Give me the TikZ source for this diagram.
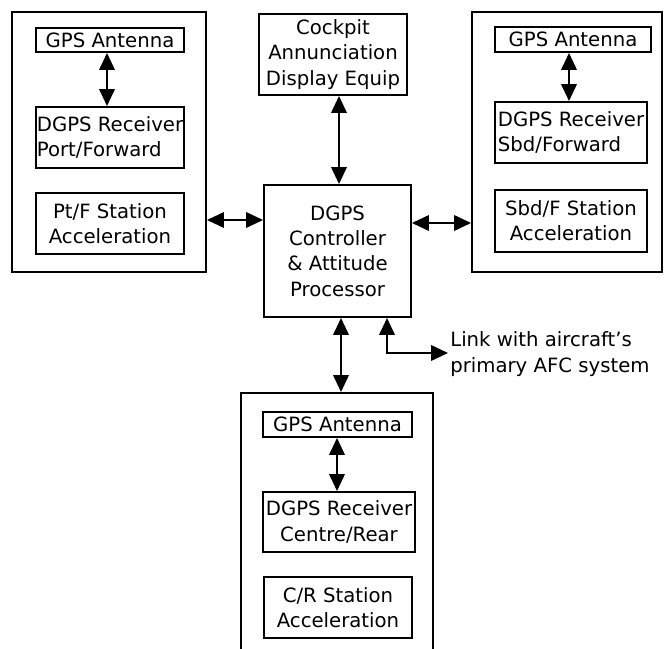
\documentclass[tikz,border=0pt]{standalone}
\usepackage{fontspec}
\setmainfont{DejaVu Sans}
\usetikzlibrary{arrows.meta}
\begin{document}
\begin{tikzpicture}[x=0.025cm,y=-0.025cm,
  bx/.style 2 args={draw,line width=1.4pt,minimum width=#1*0.025cm,minimum height=#2*0.025cm,inner sep=0pt,align=center,font=\fontsize{14}{18}\selectfont},
  dbl/.style={{Triangle[length=12pt,width=11pt]}-{Triangle[length=12pt,width=11pt]},line width=1.4pt},
  lbl/.style={anchor=west,align=left,inner sep=0pt,font=\fontsize{14}{18}\selectfont}]
  \useasboundingbox (0,0) rectangle (664,649);
  \clip (0,0) rectangle (664,649);
  \node[bx={194}{260}] (pout) at (109,142) {};
  \node[bx={148}{24}] (pant) at (110,40) {GPS Antenna};
  \node[bx={148}{61},align=left] (prx) at (110,137.5) {DGPS Receiver\\Port/Forward};
  \node[bx={148}{61}] (pst) at (110,223.5) {Pt/F Station\\Acceleration};
  \node[bx={148}{81}] (cock) at (333,54.5) {Cockpit\\Annunciation\\Display Equip};
  \node[bx={147}{132}] (ctrl) at (337.5,251) {DGPS\\Controller\\\& Attitude\\Processor};
  \node[bx={190}{260}] (sout) at (567,142) {};
  \node[bx={156}{25}] (sant) at (573,39.5) {GPS Antenna};
  \node[bx={152}{61},align=left] (srx) at (571,132.5) {DGPS Receiver\\Sbd/Forward};
  \node[bx={152}{62}] (sst) at (571,221) {Sbd/F Station\\Acceleration};
  \node[bx={192}{272}] (cout) at (337,529) {};
  \node[bx={149}{25}] (cant) at (337.5,424.5) {GPS Antenna};
  \node[bx={152}{60}] (crx) at (339,522) {DGPS Receiver\\Centre/Rear};
  \node[bx={148}{61}] (cst) at (338,607.5) {C/R Station\\Acceleration};
  \coordinate (pm) at (0,220);
  \coordinate (sm) at (0,223);
  \coordinate (cm) at (341,0);
  \coordinate (km) at (339,0);
  \coordinate (am) at (337,0);
  \coordinate (lkc) at (387,353);
  \coordinate (lke) at (448,353);
  \node[lbl] (link) at (450,354) {Link with aircraft's\\primary AFC system};
  \draw[dbl] (pant.south -| 107,0) -- (prx.north -| 107,0);
  \draw[dbl] (sant.south -| 569,0) -- (srx.north -| 569,0);
  \draw[dbl] (cant.south -| am) -- (crx.north -| am);
  \draw[dbl] (cock.south -| km) -- (ctrl.north -| km);
  \draw[dbl] (pout.east |- pm) -- (ctrl.west |- pm);
  \draw[dbl] (ctrl.east |- sm) -- (sout.west |- sm);
  \draw[dbl] (ctrl.south -| cm) -- (cout.north -| cm);
  \draw[dbl] (ctrl.south -| lkc) -- (lkc) -- (lke);
\end{tikzpicture}
\end{document}
